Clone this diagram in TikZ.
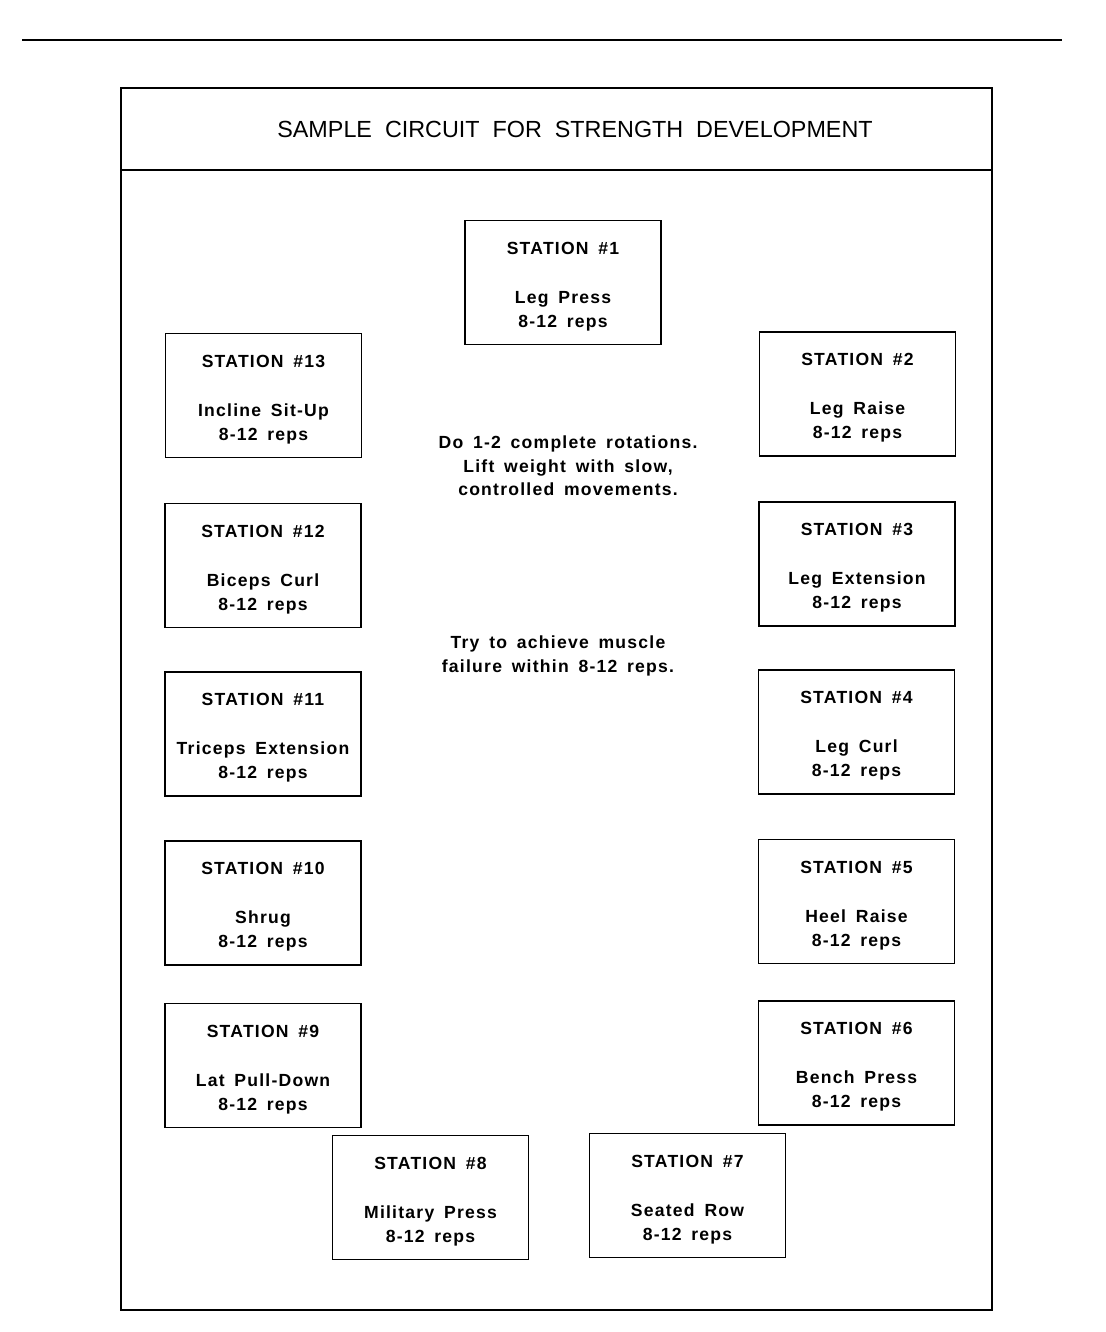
\documentclass[tikz,border=0pt]{standalone}
\usepackage{fontspec}
\setmainfont{Liberation Sans}
\newfontfamily\stationfont[LetterSpace=7,WordSpace=1.6]{Liberation Sans}
\newfontfamily\titlefont[WordSpace=2]{Liberation Sans}
\usetikzlibrary{positioning}

\begin{document}
\begin{tikzpicture}[x=0.025cm,y=-0.025cm,
        stationbox/.style={draw,line width=1.3pt,minimum width=4.9cm,minimum height=3.1cm,inner sep=0pt},
        stationtext/.style={align=center,inner sep=0pt,font=\stationfont\bfseries\fontsize{12.5pt}{17pt}\selectfont},
        note/.style={align=center,inner sep=0pt,font=\stationfont\bfseries\fontsize{12.5pt}{16.7pt}\selectfont}]
    \useasboundingbox (0,0) rectangle (1105,1332);
    % rule across the page
    \draw[line width=2pt] (22,40) -- (1062,40);
    % frame and title
    \draw[line width=1.3pt] (121,88) rectangle (992,1310);
    \draw[line width=1.3pt] (121,170) -- (992,170);
    \node[font=\titlefont\fontsize{16.6pt}{20pt}\selectfont,inner sep=0pt] (title) at (575,129)
        {SAMPLE CIRCUIT FOR STRENGTH DEVELOPMENT};
    % stations
    \foreach \n/\x/\y/\what in {1/563/282.5/Leg Press, 2/857.5/394/Leg Raise,
            3/857/564/Leg Extension, 4/856.5/732/Leg Curl, 5/856.5/901.5/Heel Raise,
            6/856.5/1063/Bench Press, 7/687.5/1195.5/Seated Row, 8/430.5/1197.5/Military Press,
            9/263/1065.5/Lat Pull-Down, 10/263/903/Shrug, 11/263/734/Triceps Extension,
            12/263/565.5/Biceps Curl, 13/263.5/395.5/Incline Sit-Up}{
        \node[stationbox] (s\n) at (\x,\y) {};
        \node[stationtext] (t\n) at ([yshift=-0.1cm]s\n.center) {STATION \#\n\\[17.8pt]\what\\8-12 reps};
    }
    % notes in the middle
    \node[note] (rot) at (568,466) {Do 1-2 complete rotations.\\Lift weight with slow,\\controlled movements.};
    \node[note] (fail) at (558,656) {Try to achieve muscle\\failure within 8-12 reps.};
\end{tikzpicture}
\end{document}
